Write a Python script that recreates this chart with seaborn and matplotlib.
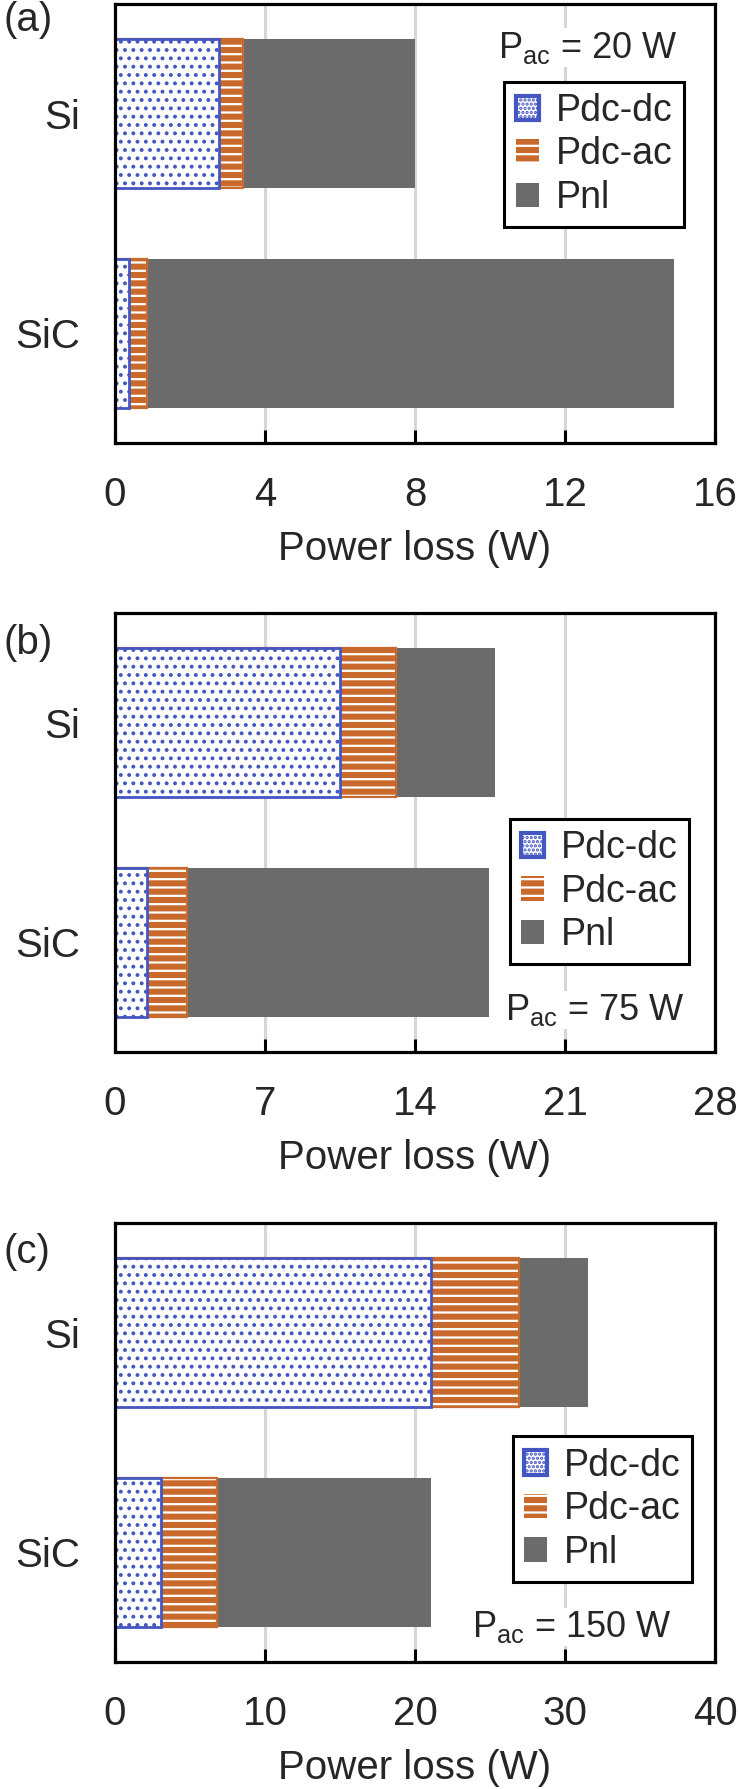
import matplotlib
matplotlib.use('Agg')
import matplotlib.pyplot as plt
import matplotlib.patches as mpatches
import seaborn as sns

sns.set_style('white')
plt.rcParams['font.family'] = ['Liberation Sans', 'DejaVu Sans']
plt.rcParams['mathtext.fontset'] = 'custom'
plt.rcParams['mathtext.rm'] = 'Liberation Sans'
plt.rcParams['mathtext.it'] = 'Liberation Sans'
plt.rcParams['hatch.linewidth'] = 1.6

BLUE = '#4456C2'
ORANGE = '#C96A2C'
GRAY = '#6B6B6B'
GRID = '#D6D6D6'

DEVICES = ['Si', 'SiC']
PANEL_LABELS = ['(a)', '(b)', '(c)']
P_AC_LABELS = ['20 W', '75 W', '150 W']
LEGEND_LABELS = ['Pdc-dc', 'Pdc-ac', 'Pnl']

# power loss components (W), order: Si, SiC
PDC_DC_20 = [2.77, 0.36]
PDC_AC_20 = [0.65, 0.50]
PNL_20 = [4.58, 14.04]

PDC_DC_75 = [10.5, 1.5]
PDC_AC_75 = [2.6, 1.85]
PNL_75 = [4.63, 14.1]

PDC_DC_150 = [21.04, 3.07]
PDC_AC_150 = [5.86, 3.76]
PNL_150 = [4.6, 14.24]

X_MAX = [16, 28, 40]
X_STEP = [4, 7, 10]

PANELS = [
    (PDC_DC_20, PDC_AC_20, PNL_20),
    (PDC_DC_75, PDC_AC_75, PNL_75),
    (PDC_DC_150, PDC_AC_150, PNL_150),
]

# layout in figure pixels (738 x 1789)
W, H = 738, 1789
AX_LEFT, AX_RIGHT = 115, 715
AX_TOPS = [4, 613, 1223]
AX_HEIGHT = 439
LEGEND_ANCHORS = [(0.948, 0.823), (0.957, 0.531), (0.962, 0.514)]
PAC_POS = [(0.938, 0.878), (0.95, 0.073), (0.927, 0.057)]
PANEL_LABEL_Y = [20, 643, 1252]
BAR_W = 0.68

fig = plt.figure(figsize=(W / 100, H / 100), dpi=100)

for i, (dc, ac, nl) in enumerate(PANELS):
    top = AX_TOPS[i]
    ax = fig.add_axes([AX_LEFT / W, 1 - (top + AX_HEIGHT) / H,
                       (AX_RIGHT - AX_LEFT) / W, AX_HEIGHT / H])

    dc_ac = [d + a for d, a in zip(dc, ac)]
    total = [s + n for s, n in zip(dc_ac, nl)]

    sns.barplot(x=total, y=DEVICES, color=GRAY, saturation=1, width=BAR_W,
                errorbar=None, linewidth=0, ax=ax)
    sns.barplot(x=dc_ac, y=DEVICES, color=ORANGE, saturation=1, width=BAR_W,
                errorbar=None, edgecolor='white', linewidth=0, hatch='--', ax=ax)
    sns.barplot(x=dc_ac, y=DEVICES, color=ORANGE, fill=False, width=BAR_W,
                errorbar=None, linewidth=1.6, ax=ax)
    sns.barplot(x=dc, y=DEVICES, color='white', saturation=1, width=BAR_W,
                errorbar=None, edgecolor=BLUE, linewidth=2, hatch='..', ax=ax)

    ax.set_xlim(0, X_MAX[i])
    ax.set_ylim(1.5, -0.5)
    ax.set_xticks(range(0, X_MAX[i] + 1, X_STEP[i]))
    ax.tick_params(axis='x', direction='in', length=9.5, width=2.2,
                   labelsize=29, pad=24, bottom=True, top=False, color='black')
    ax.tick_params(axis='y', length=0, labelsize=29, pad=25)
    ax.xaxis.grid(True, color=GRID, linewidth=2.2)
    ax.yaxis.grid(False)
    ax.set_axisbelow(True)
    ax.set_xlabel('Power loss (W)', fontsize=29, labelpad=11)
    ax.set_ylabel('')
    for sp in ax.spines.values():
        sp.set_visible(True)
        sp.set_color('black')
        sp.set_linewidth(2.3)

    handles = [
        mpatches.Patch(facecolor='white', edgecolor=BLUE, linewidth=3, hatch='....', label=LEGEND_LABELS[0]),
        mpatches.Patch(facecolor=ORANGE, edgecolor='white', linewidth=0, hatch='--', label=LEGEND_LABELS[1]),
        mpatches.Patch(facecolor=GRAY, edgecolor='none', label=LEGEND_LABELS[2]),
    ]
    leg = ax.legend(handles=handles, loc='upper right', bbox_to_anchor=LEGEND_ANCHORS[i],
                    borderaxespad=0, fontsize=27, frameon=True, fancybox=False,
                    edgecolor='black', framealpha=1, handlelength=0.62, handleheight=0.62,
                    handletextpad=0.45, labelspacing=0.2, borderpad=0.3)
    leg.get_frame().set_linewidth(2.2)

    ax.text(PAC_POS[i][0], PAC_POS[i][1], r'$\mathregular{P_{ac}}$ = ' + P_AC_LABELS[i],
            transform=ax.transAxes, ha='right', va='baseline', fontsize=26,
            bbox=dict(facecolor='white', edgecolor='none', pad=1))

    fig.text(3 / W, 1 - PANEL_LABEL_Y[i] / H, PANEL_LABELS[i], ha='left', va='center', fontsize=29)

fig.savefig('out.png', dpi=100)
